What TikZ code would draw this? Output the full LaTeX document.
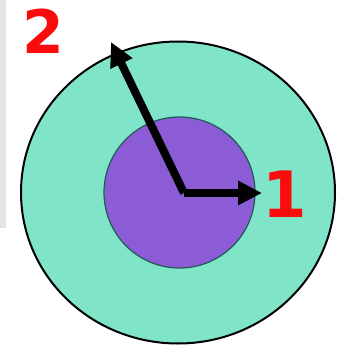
\documentclass[tikz,border=0pt]{standalone}
\usepackage{fontspec}
\setmainfont{DejaVu Sans}
\usetikzlibrary{arrows.meta}
\definecolor{outerfill}{RGB}{128,228,200}
\definecolor{innerfill}{RGB}{140,92,214}
\definecolor{inneredge}{RGB}{30,90,85}
\definecolor{lblred}{RGB}{250,12,12}
\definecolor{strip}{RGB}{228,228,228}
\tikzset{
  vec/.style={line width=8pt, line join=miter, -{Triangle[length=24pt,width=23pt]}},
  lbl/.style={text=lblred, inner sep=0pt, font=\bfseries}
}
\begin{document}
\begin{tikzpicture}[x=1pt,y=1pt]
\useasboundingbox (0,0) rectangle (338,-345);
\fill[white] (0,0) rectangle (338,-345);
\fill[strip] (0,0) rectangle (6,-228);
\draw[line width=2pt, fill=outerfill] (178,-192.5) ellipse [x radius=157, y radius=151];
\draw[line width=1.2pt, draw=inneredge, fill=innerfill] (179.5,-192.5) circle [radius=75.5];
\coordinate (o) at (184,-193);
\coordinate (t1) at (262,-193);
\coordinate (t2) at (111,-42);
\draw[vec] (o) -- (t1);
\draw[vec] (o) -- (t2);
\node[lbl, font=\fontsize{60}{60}\selectfont\bfseries] (n2) at (43.5,-31) {2};
\node[lbl, font=\fontsize{64}{64}\selectfont\bfseries] (n1) at (285,-194) {1};
\end{tikzpicture}
\end{document}
